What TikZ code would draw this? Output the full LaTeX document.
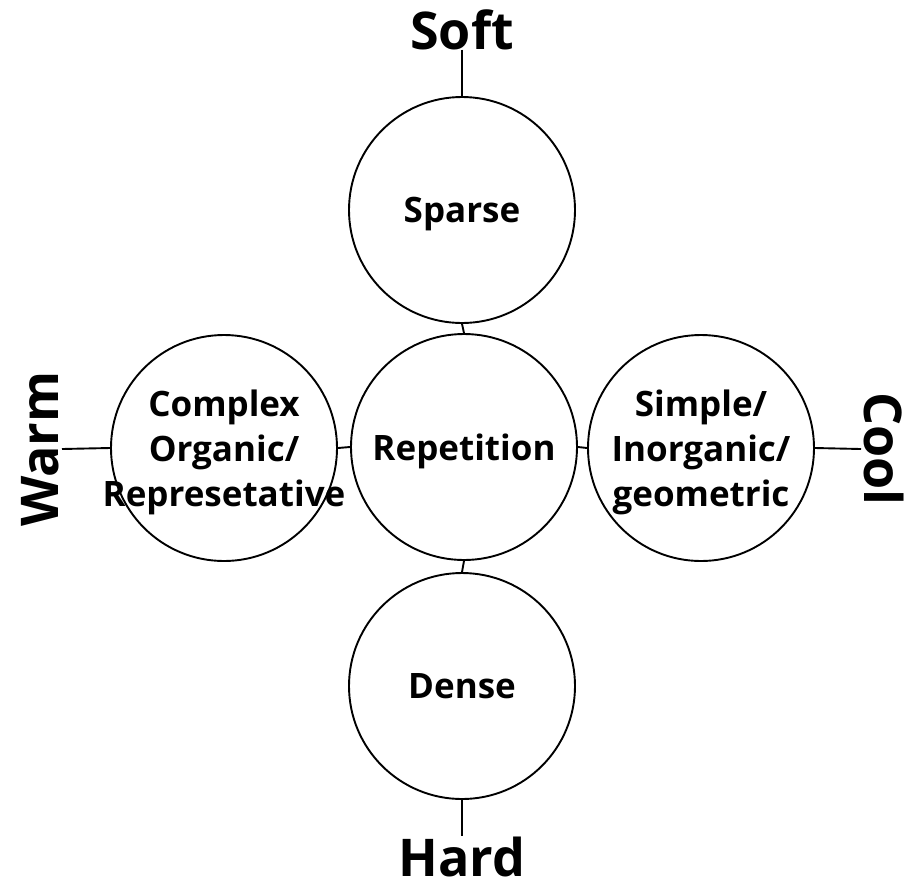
\documentclass[tikz,border=0pt]{standalone}
\usepackage{fontspec}
\setmainfont{Open Sans}
\newcommand{\zl}[1]{\makebox[0pt]{#1}}
\begin{document}
\begin{tikzpicture}[x=1pt,y=-1pt,
  circ/.style={circle,draw,line width=1.9pt,minimum size=226pt,inner sep=0pt,align=center,
    text depth=0pt,font=\fontsize{35}{45}\selectfont\bfseries},
  big/.style={inner sep=0pt,font=\fontsize{52}{60}\selectfont\bfseries},
  conn/.style={line width=1.9pt}]
\useasboundingbox (0,0) rectangle (923,887);
\node[circ] (top) at (462,210) {Sparse};
\node[circ] (mid) at (464,447) {Repetition};
\node[circ] (bot) at (462,686) {Dense};
\node[circ] (left) at (224,448) {\zl{Complex}\\\zl{Organic/}\\\zl{Represetative}};
\node[circ] (right) at (701,448) {\zl{Simple/}\\\zl{Inorganic/}\\\zl{geometric}};
\node[big,anchor=base] (soft) at (462,49) {Soft};
\node[big,anchor=base] (hard) at (462,876) {Hard};
\node[big,anchor=south,rotate=90,inner sep=3pt] (warm) at (62,449) {Warm};
\node[big,anchor=south,rotate=-90,inner sep=3pt] (cool) at (861,449) {Cool};
\draw[conn] (soft.south) -- (top.north);
\draw[conn] (top.south) -- (mid.north);
\draw[conn] (mid.south) -- (bot.north);
\draw[conn] (bot.south) -- (hard.north);
\draw[conn] (warm.south) -- (left.west);
\draw[conn] (left.east) -- (mid.west);
\draw[conn] (mid.east) -- (right.west);
\draw[conn] (right.east) -- (cool.south);
\end{tikzpicture}
\end{document}
